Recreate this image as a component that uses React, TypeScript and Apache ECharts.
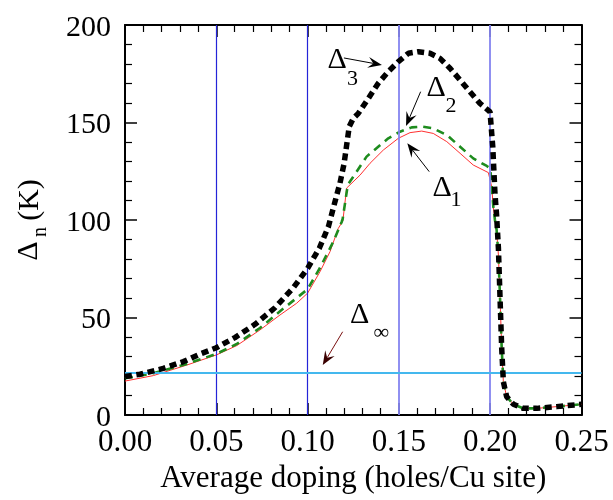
import React, { useEffect, useRef } from "react";
import * as echarts from "echarts";

// ---- data ----
const xTickLabels = ["0.00", "0.05", "0.10", "0.15", "0.20", "0.25"];
const yTickValues = [0, 50, 100, 150, 200];

// Δ3 (black thick dotted)
const delta3: [number, number][] = [
  [0, 19.7], [0.0082, 20.9], [0.021, 23.9], [0.032, 27.4], [0.042, 31.6], [0.05, 34.5],
  [0.0602, 39.7], [0.0712, 46.5], [0.0821, 55.0], [0.0922, 65.3], [0.1, 75.2], [0.1064, 85.5],
  [0.1114, 96.6], [0.115, 109.4], [0.1177, 118.8], [0.12, 129], [0.1214, 138.5], [0.1228, 147.9],
  [0.125, 152.1], [0.1278, 154.7], [0.1333, 162.4], [0.1387, 170.1], [0.1442, 176.1], [0.1497, 181.2],
  [0.1552, 185.5], [0.1606, 186.3], [0.167, 185.5], [0.1725, 182.9], [0.178, 177.8], [0.1835, 171.8],
  [0.1889, 165.8], [0.1944, 159.8], [0.1999, 155.5], [0.2014, 137.6], [0.2026, 113.7], [0.2035, 102.6],
  [0.2045, 85.5], [0.2054, 59.8], [0.2063, 34.2], [0.2072, 17.1], [0.209, 9.4], [0.2127, 5.5],
  [0.2181, 3.4], [0.2255, 3.4], [0.2364, 4.3], [0.25, 5.5],
];

// Δ2 (green dashed)
const delta2: [number, number][] = [
  [0, 18.8], [0.0155, 21.4], [0.0338, 26.2], [0.05, 31.3], [0.0612, 36.4], [0.0739, 44.6],
  [0.0849, 53.2], [0.094, 60], [0.1, 64.5], [0.1068, 75.5], [0.1141, 88.9], [0.1187, 99.1],
  [0.1192, 100.5], [0.122, 118], [0.125, 122.2], [0.1323, 132.5], [0.1442, 141.9], [0.1506, 145.3],
  [0.157, 147.5], [0.1625, 147.9], [0.1688, 147], [0.1762, 143.6], [0.1835, 137.6], [0.1907, 131.6],
  [0.1981, 127.7], [0.2, 126.5], [0.2008, 118], [0.2017, 107], [0.2026, 100], [0.2035, 95],
  [0.2045, 82], [0.2054, 59.8], [0.2063, 34.2], [0.2072, 17.1], [0.209, 9.4], [0.2127, 5.5],
  [0.2181, 3.4], [0.2255, 3.4], [0.2364, 4.3], [0.25, 5.5],
];

// Δ1 (red thin)
const delta1: [number, number][] = [
  [0, 17.4], [0.0155, 20.2], [0.0338, 25.6], [0.05, 30.8], [0.0612, 35.6], [0.0739, 43.6],
  [0.0849, 51.3], [0.094, 57.3], [0.1, 62.5], [0.1068, 73.5], [0.1123, 83.8], [0.1168, 95.7],
  [0.1193, 99.5], [0.1214, 116.4], [0.1287, 123], [0.1342, 129.1], [0.1415, 135.9], [0.1497, 141.9],
  [0.1561, 144.8], [0.1625, 145.6], [0.1688, 144.4], [0.1762, 140.2], [0.1835, 134.2], [0.1907, 128.2],
  [0.199, 124.3], [0.2008, 117.1], [0.2017, 106.8], [0.2026, 100], [0.2035, 95], [0.2045, 82],
  [0.2054, 59.8], [0.2063, 34.2], [0.2072, 17.1], [0.209, 9.4], [0.2127, 5.5], [0.2181, 3.4],
  [0.2255, 3.4], [0.2364, 4.3], [0.25, 5.5],
];

// Δ∞ level
const deltaInf = 21.7;

// vertical reference lines
const vLinesDark = [0.05, 0.1];
const vLinesLight = [0.15, 0.2];

// annotation anchors in data coordinates
const annotations = [
  { main: "Δ", sub: "3", at: [0.1164, 182.8], subAt: [0.1249, 173.3], from: [0.1199, 183.1], to: [0.1407, 179.5], color: "#000" },
  { main: "Δ", sub: "2", at: [0.1706, 168.7], subAt: [0.1788, 159.0], from: [0.1619, 165.8], to: [0.1539, 148.2], color: "#000" },
  { main: "Δ", sub: "1", at: [0.1739, 117.4], subAt: [0.1816, 110.8], from: [0.1666, 124.8], to: [0.1546, 139.3], color: "#000" },
  { main: "Δ", sub: "∞", at: [0.1287, 51.8], subAt: [0.1394, 42.6], from: [0.1192, 42.7], to: [0.1083, 25.6], color: "#3a0000" },
];

const FONT = "Liberation Serif";

// layout of the plotting area
const W = 613, H = 500;
const GRID = { left: 125, right: 31.5, top: 25, bottom: 85 };
const X_MIN = 0, X_MAX = 0.25, Y_MIN = 0, Y_MAX = 200;

function toPx(p: number[]) {
  const pw = W - GRID.left - GRID.right;
  const ph = H - GRID.top - GRID.bottom;
  return [
    GRID.left + ((p[0] - X_MIN) / (X_MAX - X_MIN)) * pw,
    GRID.top + ph - ((p[1] - Y_MIN) / (Y_MAX - Y_MIN)) * ph,
  ];
}

function arrowHead(p0: number[], p1: number[], L: number, Wd: number) {
  const dx = p1[0] - p0[0];
  const dy = p1[1] - p0[1];
  const len = Math.hypot(dx, dy) || 1;
  const ux = dx / len, uy = dy / len;
  const nx = -uy, ny = ux;
  const bx = p1[0] - L * ux, by = p1[1] - L * uy;
  return [
    [p1[0], p1[1]],
    [bx + Wd * nx, by + Wd * ny],
    [p1[0] - 0.62 * L * ux, p1[1] - 0.62 * L * uy],
    [bx - Wd * nx, by - Wd * ny],
  ];
}

export default function App() {
  const ref = useRef<HTMLDivElement>(null);

  useEffect(() => {
    document.body.style.margin = "0";
    const chart = echarts.init(ref.current!, undefined, { renderer: "svg" });

    const axisCommon = {
      type: "value" as const,
      axisLine: { show: true, onZero: false, lineStyle: { color: "#000", width: 2 } },
      axisTick: { show: true, inside: true, length: 12, lineStyle: { color: "#000", width: 1.5 } },
      minorTick: { show: true, splitNumber: 5, length: 7, lineStyle: { color: "#000", width: 1.2 } },
      splitLine: { show: false },
    };

    const xAxisBase = { ...axisCommon, min: X_MIN, max: X_MAX, interval: 0.05 };
    const yAxisBase = { ...axisCommon, min: Y_MIN, max: Y_MAX, interval: 50 };

    const markData: any[] = [
      ...vLinesDark.map((v) => ({ xAxis: v, lineStyle: { color: "#2424d8", width: 1.2, type: "solid" } })),
      ...vLinesLight.map((v) => ({ xAxis: v, lineStyle: { color: "#8484f0", width: 1.8, type: "solid" } })),
      { yAxis: deltaInf, lineStyle: { color: "#44b8ee", width: 2, type: "solid" } },
    ];

    const graphics: any[] = [];
    annotations.forEach((a) => {
      const m = toPx(a.at);
      const s = toPx(a.subAt);
      const f = toPx(a.from);
      const t = toPx(a.to);
      graphics.push({
        type: "text", x: m[0] - 10, y: m[1] - 16,
        style: { text: a.main, fontFamily: FONT, fontSize: 30, fill: "#000" },
      });
      graphics.push({
        type: "text", x: s[0] - 6, y: s[1] - 11,
        style: { text: a.sub, fontFamily: FONT, fontSize: 22, fill: "#000" },
      });
      const head = arrowHead(f, t, 14, 5.5);
      graphics.push({
        type: "line",
        shape: { x1: f[0], y1: f[1], x2: head[2][0], y2: head[2][1] },
        style: { stroke: a.color === "#000" ? "#000" : "#7a1010", lineWidth: 1 },
      });
      graphics.push({ type: "polygon", shape: { points: head }, style: { fill: a.color } });
    });
    graphics.push({
      type: "text", x: 26, y: 251, rotation: Math.PI / 2,
      style: { text: "Δ", fontFamily: FONT, fontSize: 30, fill: "#000", align: "center", verticalAlign: "middle" },
    });
    graphics.push({
      type: "text", x: 39, y: 232, rotation: Math.PI / 2,
      style: { text: "n", fontFamily: FONT, fontSize: 20, fill: "#000", align: "center", verticalAlign: "middle" },
    });
    graphics.push({
      type: "text", x: 27, y: 200, rotation: Math.PI / 2,
      style: { text: "(K)", fontFamily: FONT, fontSize: 30, fill: "#000", align: "center", verticalAlign: "middle" },
    });

    chart.setOption({
      animation: false,
      grid: { ...GRID },
      xAxis: [
        {
          ...xAxisBase,
          position: "bottom",
          axisLabel: {
            margin: 10,
            color: "#000",
            fontFamily: FONT,
            fontSize: 31,
            formatter: (v: number) => xTickLabels[Math.round(v / 0.05)] ?? v.toFixed(2),
          },
          name: "Average doping (holes/Cu site)",
          nameLocation: "middle",
          nameGap: 35,
          nameTextStyle: { color: "#000", fontFamily: FONT, fontSize: 31 },
        },
        { ...xAxisBase, position: "top", axisLabel: { show: false } },
      ],
      yAxis: [
        {
          ...yAxisBase,
          position: "left",
          axisLabel: {
            margin: 14,
            color: "#000",
            fontFamily: FONT,
            fontSize: 30,
            formatter: (v: number) => (yTickValues.includes(v) ? String(v) : ""),
          },
        },
        { ...yAxisBase, position: "right", axisLabel: { show: false } },
      ],
      series: [
        {
          type: "line",
          name: "D1",
          data: delta1,
          z: 3,
          symbol: "none",
          lineStyle: { color: "#ff3030", width: 1 },
          markLine: { silent: true, symbol: "none", label: { show: false }, data: markData },
        },
        { type: "line", name: "D2", data: delta2, z: 4, symbol: "none", lineStyle: { color: "#1e8c1e", width: 2.6, type: [8, 6] } },
        { type: "line", name: "D3", data: delta3, z: 5, symbol: "none", lineStyle: { color: "#000", width: 5.5, type: [7, 4.5] } },
      ],
      graphic: graphics,
    });

    return () => chart.dispose();
  }, []);

  return <div ref={ref} style={{ position: "fixed", left: 0, top: 0, width: W, height: H }} />;
}
